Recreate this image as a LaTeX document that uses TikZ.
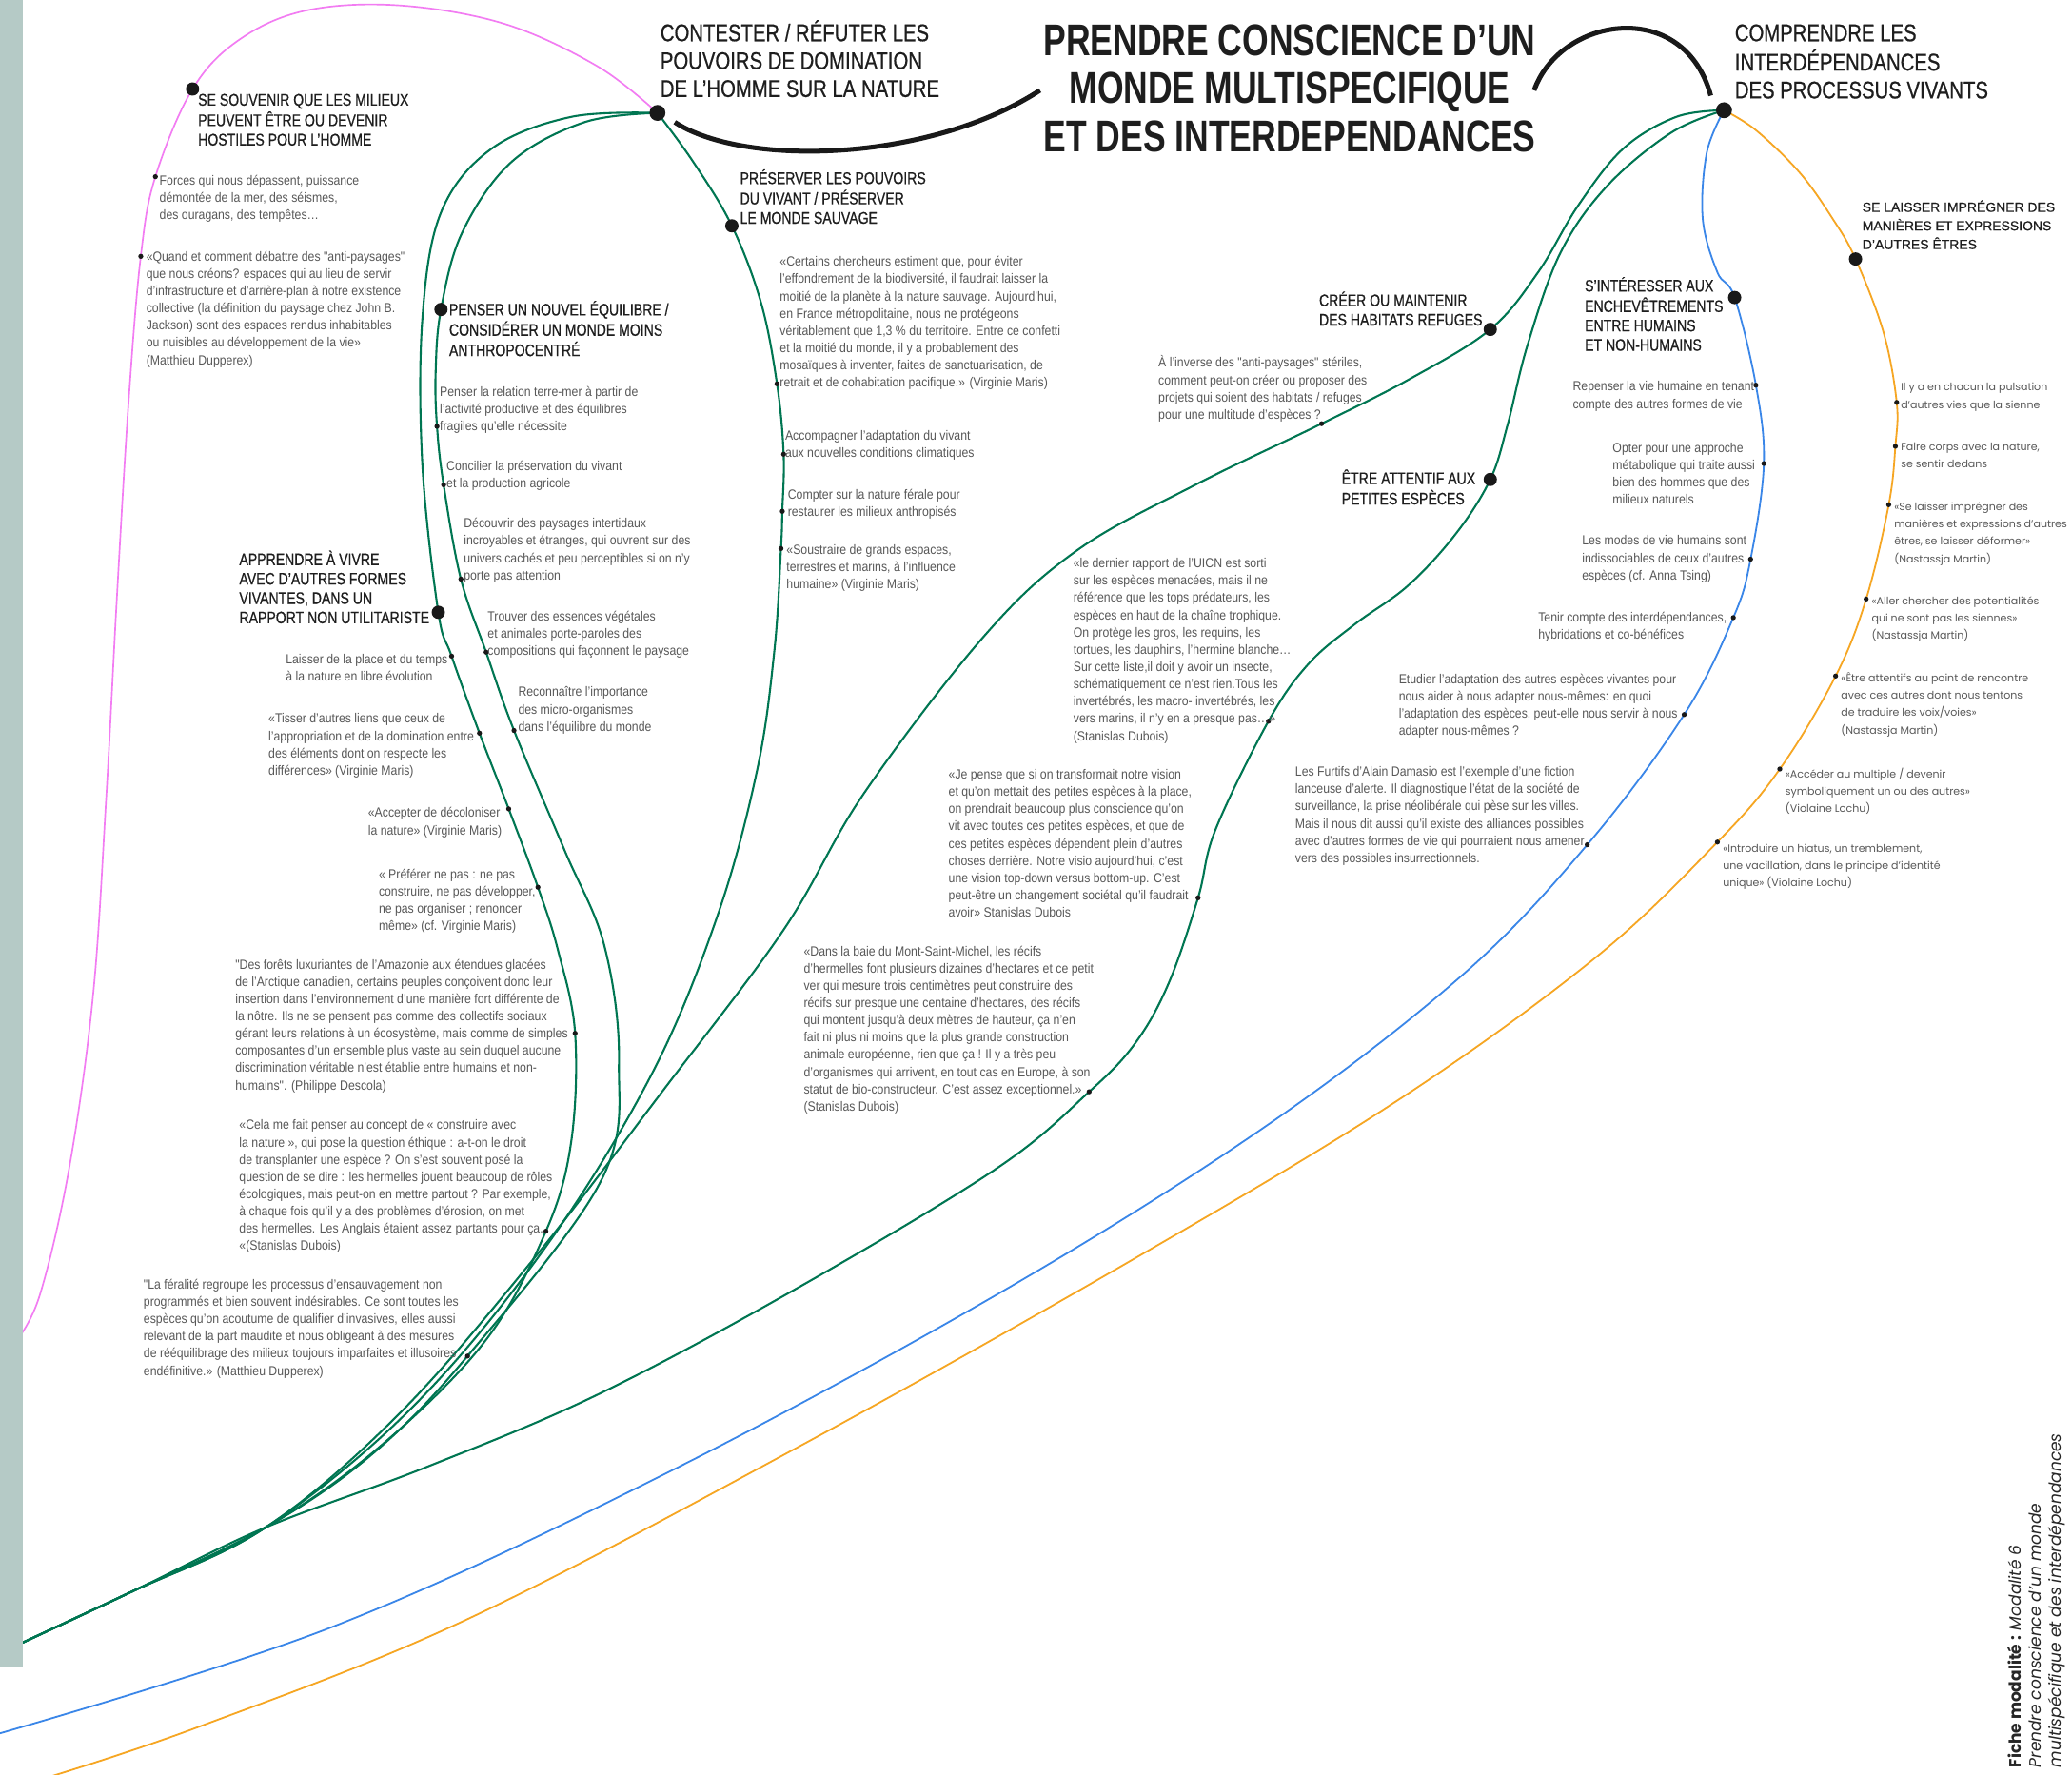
\documentclass[tikz,border=0pt]{standalone}
\usepackage{fontspec}
\newfontfamily\smallf[FakeStretch=0.88]{Liberation Sans}
\newfontfamily\headf[FakeStretch=0.8,FakeBold=0.6]{Liberation Sans}
\newfontfamily\titlef[FakeStretch=0.76]{Liberation Sans}
\newfontfamily\plainf[FakeBold=0.5]{Liberation Sans}
\newfontfamily\geof{Poppins}
\definecolor{grn}{RGB}{0,118,82}
\definecolor{blu}{RGB}{58,134,232}
\definecolor{org}{RGB}{246,166,35}
\definecolor{pnk}{RGB}{242,124,242}
\definecolor{barc}{RGB}{181,202,198}
\definecolor{txt}{RGB}{88,88,88}
\definecolor{hdt}{RGB}{30,30,30}
\newcommand\ml[1]{\begin{tabular}[t]{@{}l@{}}#1\end{tabular}}
\newcommand\mc[1]{\begin{tabular}[t]{@{}c@{}}#1\end{tabular}}
\pgfdeclarelayer{bg}\pgfdeclarelayer{fg}\pgfsetlayers{bg,main,fg}
\begin{document}
\begin{tikzpicture}[x=1pt,y=-1pt,line cap=round,line join=round,
  big/.style={circle,fill=black!90,inner sep=0,minimum size=10pt},
  huge/.style={circle,fill=black!90,inner sep=0,minimum size=12pt},
  sml/.style={circle,fill=black!90,inner sep=0,minimum size=3.8pt},
  sm/.style={anchor=base west,inner sep=0,font=\smallf\fontsize{10}{13}\selectfont,text=txt},
  hd/.style={anchor=base west,inner sep=0,font=\headf\fontsize{12.6}{14.6}\selectfont,text=hdt},
  hdl/.style={anchor=base west,inner sep=0,font=\headf\fontsize{18.2}{21}\selectfont,text=hdt},
  hdp/.style={anchor=base west,inner sep=0,font=\plainf\fontsize{10}{14}\selectfont,text=hdt},
  geo/.style={anchor=base west,inner sep=0,font=\geof\fontsize{7.9}{13}\selectfont,text=txt},
  gline/.style={draw=grn,line width=1.5pt},
  bline/.style={draw=blu,line width=1.3pt},
  oline/.style={draw=org,line width=1.3pt},
  pline/.style={draw=pnk,line width=1.2pt},
  arcline/.style={draw=black!90,line width=3.6pt}]
\useasboundingbox (0,0) rectangle (1560,1336);

% ---------- title ----------
\node[anchor=base,inner sep=0,font=\titlef\bfseries\fontsize{33.5}{36}\selectfont,text=hdt] (title) at (971,42)
  {\mc{PRENDRE CONSCIENCE D’UN\\MONDE MULTISPECIFIQUE\\ET DES INTERDEPENDANCES}};

% ---------- big dots ----------
\node[huge] (contester) at (495,85) {};
\node[huge] (comprendre) at (1298,83) {};
\node[big] (souvenir) at (145,67) {};
\node[big] (preserver) at (551,170) {};
\node[big] (penser) at (332,233) {};
\node[big] (apprendre) at (330,461) {};
\node[big] (creer) at (1122,248) {};
\node[big] (etre) at (1122,361) {};
\node[big] (interesser) at (1306,224) {};
\node[big] (laisser) at (1397,195) {};

% ---------- small dots ----------
\node[sml] (p1) at (117,133) {};
\node[sml] (p2) at (106,193) {};
\node[sml] (a1) at (585,289) {};
\node[sml] (a2) at (590,342) {};
\node[sml] (a3) at (589,385) {};
\node[sml] (a4) at (588,413) {};
\node[sml] (b1) at (329,321) {};
\node[sml] (b2) at (334,365) {};
\node[sml] (b3) at (347,436) {};
\node[sml] (b4) at (366,491) {};
\node[sml] (b5) at (387,550) {};
\node[sml] (c1) at (340,494) {};
\node[sml] (c2) at (361,552) {};
\node[sml] (c3) at (383,609) {};
\node[sml] (c4) at (405,668) {};
\node[sml] (c5) at (433,778) {};
\node[sml] (c6) at (411,927) {};
\node[sml] (f1) at (352,1021) {};
\node[sml] (d1) at (995,319) {};
\node[sml] (e1) at (955,543) {};
\node[sml] (e2) at (902,676) {};
\node[sml] (e3) at (820,822) {};
\node[sml] (u1) at (1322,290) {};
\node[sml] (u2) at (1328,349) {};
\node[sml] (u3) at (1318,421) {};
\node[sml] (u4) at (1305,465) {};
\node[sml] (u5) at (1268,538) {};
\node[sml] (u6) at (1195,636) {};
\node[sml] (o1) at (1428,303) {};
\node[sml] (o2) at (1427,336) {};
\node[sml] (o3) at (1422,380) {};
\node[sml] (o4) at (1405,451) {};
\node[sml] (o5) at (1382,509) {};
\node[sml] (o6) at (1340,579) {};
\node[sml] (o7) at (1293,634) {};

% ---------- curves ----------
\coordinate (arcLa) at (508,92);
\coordinate (arcLb) at (783,68);
\coordinate (arcRa) at (1155,68);
\coordinate (arcRb) at (1288,72);
\coordinate (green-end) at (10,1240);
\coordinate (merge) at (200,1150);
\begin{pgfonlayer}{bg}
\fill[white] (0,0) rectangle (1560,1336);
\draw[arcline] (arcLa) .. controls (560,126) and (700,122) .. (arcLb);
\draw[arcline] (arcRa) .. controls (1175,12) and (1268,-2) .. (arcRb);

\draw[pline] plot[smooth,tension=0.6] coordinates {(contester.center) (450,50) (380,18) (300,4) (230,8) (180,30) (souvenir.center) (p1.center) (p2.center) (97,300) (88,450) (80,600) (70,750) (52,880) (30,975) (12,1010)};

\draw[gline] plot[smooth,tension=0.6] coordinates {(contester.center) (522,122) (preserver.center) (573,228) (a1.center) (a2.center) (a3.center) (a4.center) (583,490) (570,580) (540,690) (490,810) (410,940) (310,1060) (merge) (100,1198) (green-end)};

\draw[gline] plot[smooth,tension=0.6] coordinates {(contester.center) (440,92) (385,122) (348,175) (penser.center) (328,280) (b1.center) (b2.center) (b3.center) (b4.center) (b5.center) (425,640) (455,712) (466,800) (452,890) (f1.center) (280,1095) (merge) (100,1198) (green-end)};

\draw[gline] plot[smooth,tension=0.6] coordinates {(contester.center) (430,88) (370,112) (332,160) (318,240) (318,350) (apprendre.center) (c1.center) (c2.center) (c3.center) (c4.center) (420,715) (c5.center) (430,860) (c6.center) (365,1010) (285,1090) (merge) (100,1198) (green-end)};

\draw[gline] plot[smooth,tension=0.6] coordinates {(comprendre.center) (1262,88) (1222,112) (1188,155) (1158,205) (creer.center) (1062,285) (d1.center) (900,365) (810,415) (740,480) (650,598) (590,700) (500,820) (400,950) (300,1065) (merge) (100,1198) (green-end)};

\draw[gline] plot[smooth,tension=0.6] coordinates {(comprendre.center) (1258,100) (1210,140) (1175,190) (1150,260) (1135,320) (etre.center) (1096,402) (1060,441) (1020,470) (985,500) (e1.center) (915,625) (e2.center) (880,740) (855,785) (e3.center) (750,880) (600,970) (450,1050) (320,1105) (merge) (100,1198) (green-end)};

\draw[bline] plot[smooth,tension=0.6] coordinates {(comprendre.center) (1285,115) (1282,165) (1293,205) (interesser.center) (u1.center) (u2.center) (u3.center) (u4.center) (u5.center) (u6.center) (1100,735) (950,850) (750,975) (500,1110) (250,1225) (0,1305)};

\draw[oline] plot[smooth,tension=0.6] coordinates {(comprendre.center) (1322,98) (1355,130) (1380,165) (laisser.center) (1418,250) (o1.center) (o2.center) (o3.center) (o4.center) (o5.center) (o6.center) (o7.center) (1200,722) (1050,830) (850,950) (600,1090) (350,1220) (150,1300) (30,1340)};
\end{pgfonlayer}

% ---------- headings ----------
\node[hdl] (h-contester) at (497,31) {\ml{CONTESTER / RÉFUTER LES\\POUVOIRS DE DOMINATION\\DE L’HOMME SUR LA NATURE}};
\node[hdl] (h-comprendre) at (1306,31) {\ml{COMPRENDRE LES\\INTERDÉPENDANCES\\DES PROCESSUS VIVANTS}};
\node[hd] (h-souvenir) at (149,79.5) {\ml{SE SOUVENIR QUE LES MILIEUX\\PEUVENT ÊTRE OU DEVENIR\\HOSTILES POUR L’HOMME}};
\node[hd] (h-preserver) at (557,138.5) {\ml{PRÉSERVER LES POUVOIRS\\DU VIVANT / PRÉSERVER\\LE MONDE SAUVAGE}};
\node[hd] (h-penser) at (338,237.5) {\ml{PENSER UN NOUVEL ÉQUILIBRE /\\CONSIDÉRER UN MONDE MOINS\\ANTHROPOCENTRÉ}};
\node[hd] (h-apprendre) at (180,425.5) {\ml{APPRENDRE À VIVRE\\AVEC D’AUTRES FORMES\\VIVANTES, DANS UN\\RAPPORT NON UTILITARISTE}};
\node[hd] (h-creer) at (993,230.5) {\ml{CRÉER OU MAINTENIR\\DES HABITATS REFUGES}};
\node[hd] (h-etre) at (1010,364.5) {\ml{ÊTRE ATTENTIF AUX\\PETITES ESPÈCES}};
\node[hd] (h-interesser) at (1193,219.5) {\ml{S’INTÉRESSER AUX\\ENCHEVÊTREMENTS\\ENTRE HUMAINS\\ET NON-HUMAINS}};
\node[hdp] (h-laisser) at (1402,159.5) {\ml{SE LAISSER IMPRÉGNER DES\\MANIÈRES ET EXPRESSIONS\\D’AUTRES ÊTRES}};

% ---------- pink items ----------
\node[sm] (t-p1) at (120,139.5) {\ml{Forces qui nous dépassent, puissance\\démontée de la mer, des séismes,\\des ouragans, des tempêtes…}};
\node[sm] (t-p2) at (110,196.5) {\ml{«Quand et comment débattre des "anti-paysages"\\que nous créons? espaces qui au lieu de servir\\d’infrastructure et d’arrière-plan à notre existence\\collective (la définition du paysage chez John B.\\Jackson) sont des espaces rendus inhabitables\\ou nuisibles au développement de la vie»\\(Matthieu Dupperex)}};

% ---------- preserver items ----------
\node[sm] (t-a1) at (587,200.5) {\ml{«Certains chercheurs estiment que, pour éviter\\l’effondrement de la biodiversité, il faudrait laisser la\\moitié de la planète à la nature sauvage. Aujourd’hui,\\en France métropolitaine, nous ne protégeons\\véritablement que 1,3 \% du territoire. Entre ce confetti\\et la moitié du monde, il y a probablement des\\mosaïques à inventer, faites de sanctuarisation, de\\retrait et de cohabitation pacifique.» (Virginie Maris)}};
\node[sm] (t-a2) at (591,331.5) {\ml{Accompagner l’adaptation du vivant\\aux nouvelles conditions climatiques}};
\node[sm] (t-a3) at (593,375.5) {\ml{Compter sur la nature férale pour\\restaurer les milieux anthropisés}};
\node[sm] (t-a4) at (592,417.5) {\ml{«Soustraire de grands espaces,\\terrestres et marins, à l’influence\\humaine» (Virginie Maris)}};

% ---------- penser items ----------
\node[sm] (t-b1) at (331,298.5) {\ml{Penser la relation terre-mer à partir de\\l’activité productive et des équilibres\\fragiles qu’elle nécessite}};
\node[sm] (t-b2) at (336,354.5) {\ml{Concilier la préservation du vivant\\et la production agricole}};
\node[sm] (t-b3) at (349,397.5) {\ml{Découvrir des paysages intertidaux\\incroyables et étranges, qui ouvrent sur des\\univers cachés et peu perceptibles si on n’y\\porte pas attention}};
\node[sm] (t-b4) at (367,467.5) {\ml{Trouver des essences végétales\\et animales porte-paroles des\\compositions qui façonnent le paysage}};
\node[sm] (t-b5) at (390,524.5) {\ml{Reconnaître l’importance\\des micro-organismes\\dans l’équilibre du monde}};

% ---------- apprendre items ----------
\node[sm] (t-c1) at (215,499.5) {\ml{Laisser de la place et du temps\\à la nature en libre évolution}};
\node[sm] (t-c2) at (202,544.5) {\ml{«Tisser d’autres liens que ceux de\\l’appropriation et de la domination entre\\des éléments dont on respecte les\\différences» (Virginie Maris)}};
\node[sm] (t-c3) at (277,615.5) {\ml{«Accepter de décoloniser\\la nature» (Virginie Maris)}};
\node[sm] (t-c4) at (285,661.5) {\ml{« Préférer ne pas : ne pas\\construire, ne pas développer,\\ne pas organiser ; renoncer\\même» (cf. Virginie Maris)}};
\node[sm] (t-c5) at (177,729.5) {\ml{"Des forêts luxuriantes de l’Amazonie aux étendues glacées\\de l’Arctique canadien, certains peuples conçoivent donc leur\\insertion dans l’environnement d’une manière fort différente de\\la nôtre. Ils ne se pensent pas comme des collectifs sociaux\\gérant leurs relations à un écosystème, mais comme de simples\\composantes d’un ensemble plus vaste au sein duquel aucune\\discrimination véritable n’est établie entre humains et non-\\humains". (Philippe Descola)}};
\node[sm] (t-c6) at (180,850.5) {\ml{«Cela me fait penser au concept de « construire avec\\la nature », qui pose la question éthique : a-t-on le droit\\de transplanter une espèce ? On s’est souvent posé la\\question de se dire : les hermelles jouent beaucoup de rôles\\écologiques, mais peut-on en mettre partout ? Par exemple,\\à chaque fois qu’il y a des problèmes d’érosion, on met\\des hermelles. Les Anglais étaient assez partants pour ça.\\«(Stanislas Dubois)}};
\node[sm] (t-f1) at (108,970.5) {\ml{"La féralité regroupe les processus d’ensauvagement non\\programmés et bien souvent indésirables. Ce sont toutes les\\espèces qu’on acoutume de qualifier d’invasives, elles aussi\\relevant de la part maudite et nous obligeant à des mesures\\de rééquilibrage des milieux toujours imparfaites et illusoires\\endéfinitive.» (Matthieu Dupperex)}};

% ---------- creer / etre items ----------
\node[sm] (t-d1) at (872,276.5) {\ml{À l’inverse des "anti-paysages" stériles,\\comment peut-on créer ou proposer des\\projets qui soient des habitats / refuges\\pour une multitude d’espèces ?}};
\node[sm] (t-e1) at (808,427.5) {\ml{«le dernier rapport de l’UICN est sorti\\sur les espèces menacées, mais il ne\\référence que les tops prédateurs, les\\espèces en haut de la chaîne trophique.\\On protège les gros, les requins, les\\tortues, les dauphins, l’hermine blanche…\\Sur cette liste,il doit y avoir un insecte,\\schématiquement ce n’est rien.Tous les\\invertébrés, les macro- invertébrés, les\\vers marins, il n’y en a presque pas…»\\(Stanislas Dubois)}};
\node[sm] (t-e2) at (714,586.5) {\ml{«Je pense que si on transformait notre vision\\et qu’on mettait des petites espèces à la place,\\on prendrait beaucoup plus conscience qu’on\\vit  avec toutes ces petites espèces, et que de\\ces petites espèces dépendent plein d’autres\\choses derrière. Notre visio aujourd’hui, c’est\\une vision top-down  versus bottom-up. C’est\\peut-être un changement sociétal qu’il faudrait\\avoir» Stanislas Dubois}};
\node[sm] (t-e3) at (605,719.5) {\ml{«Dans la baie du Mont-Saint-Michel, les récifs\\d’hermelles font plusieurs dizaines d’hectares et ce petit\\ver qui mesure trois centimètres peut construire des\\récifs sur presque une centaine d’hectares, des récifs\\qui montent jusqu’à deux mètres de hauteur, ça n’en\\fait ni plus ni moins que la plus grande construction\\animale européenne, rien que ça ! Il y a très peu\\d’organismes qui arrivent, en tout cas en Europe, à son\\statut de bio-constructeur. C’est assez exceptionnel.»\\(Stanislas Dubois)}};

% ---------- blue items ----------
\node[sm] (t-u1) at (1184,294.5) {\ml{Repenser la vie humaine en tenant\\compte des autres formes de vie}};
\node[sm] (t-u2) at (1214,340.5) {\ml{Opter pour une approche\\métabolique qui traite aussi\\bien des hommes que des\\milieux naturels}};
\node[sm] (t-u3) at (1191,410.5) {\ml{Les modes de vie humains sont\\indissociables de ceux d’autres\\espèces (cf. Anna Tsing)}};
\node[sm] (t-u4) at (1158,468.5) {\ml{Tenir compte des  interdépendances,\\hybridations et co-bénéfices}};
\node[sm] (t-u5) at (1053,514.5) {\ml{Etudier l’adaptation des autres espèces  vivantes pour\\nous aider  à nous adapter nous-mêmes: en quoi\\l’adaptation des espèces, peut-elle nous servir à nous\\adapter nous-mêmes ?}};
\node[sm] (t-u6) at (975,584.5) {\ml{Les Furtifs d’Alain Damasio est l’exemple d’une fiction\\lanceuse d’alerte. Il diagnostique l’état de la société de\\surveillance, la prise néolibérale qui pèse sur les villes.\\Mais il nous dit aussi qu’il existe des alliances possibles\\avec d’autres formes de vie qui pourraient nous amener\\vers des possibles insurrectionnels.}};

% ---------- orange items ----------
\node[geo] (t-o1) at (1431,294.5) {\ml{Il y a en chacun la pulsation\\d’autres vies que la sienne}};
\node[geo] (t-o2) at (1431,339.5) {\ml{Faire corps avec la nature,\\se sentir dedans}};
\node[geo] (t-o3) at (1426,384.5) {\ml{«Se laisser imprégner des\\manières et expressions d’autres\\êtres, se laisser déformer»\\(Nastassja Martin)}};
\node[geo] (t-o4) at (1409,455.5) {\ml{«Aller chercher des potentialités\\qui ne sont pas les siennes»\\(Nastassja Martin)}};
\node[geo] (t-o5) at (1386,513.5) {\ml{«Être attentifs au point de rencontre\\avec ces autres dont nous tentons\\de traduire les voix/voies»\\(Nastassja Martin)}};
\node[geo] (t-o6) at (1344,585.5) {\ml{«Accéder au multiple / devenir\\symboliquement un ou des autres»\\(Violaine Lochu)}};
\node[geo] (t-o7) at (1297,641.5) {\ml{«Introduire un hiatus, un tremblement,\\une vacillation, dans le principe d’identité\\unique» (Violaine Lochu)}};

% ---------- side text ----------
\node[rotate=90,anchor=base west,inner sep=0,font=\geof\fontsize{12.2}{15}\selectfont,text=black!85] (fiche) at (1522,1331)
  {\ml{\textbf{Fiche modalité :} \textit{Modalité 6}\\\textit{Prendre conscience d’un monde}\\\textit{multispécifique et des interdépendances}}};

% ---------- left bar ----------
\begin{pgfonlayer}{fg}
\fill[barc] (0,0) rectangle (17,1255);
\end{pgfonlayer}
\end{tikzpicture}
\end{document}
